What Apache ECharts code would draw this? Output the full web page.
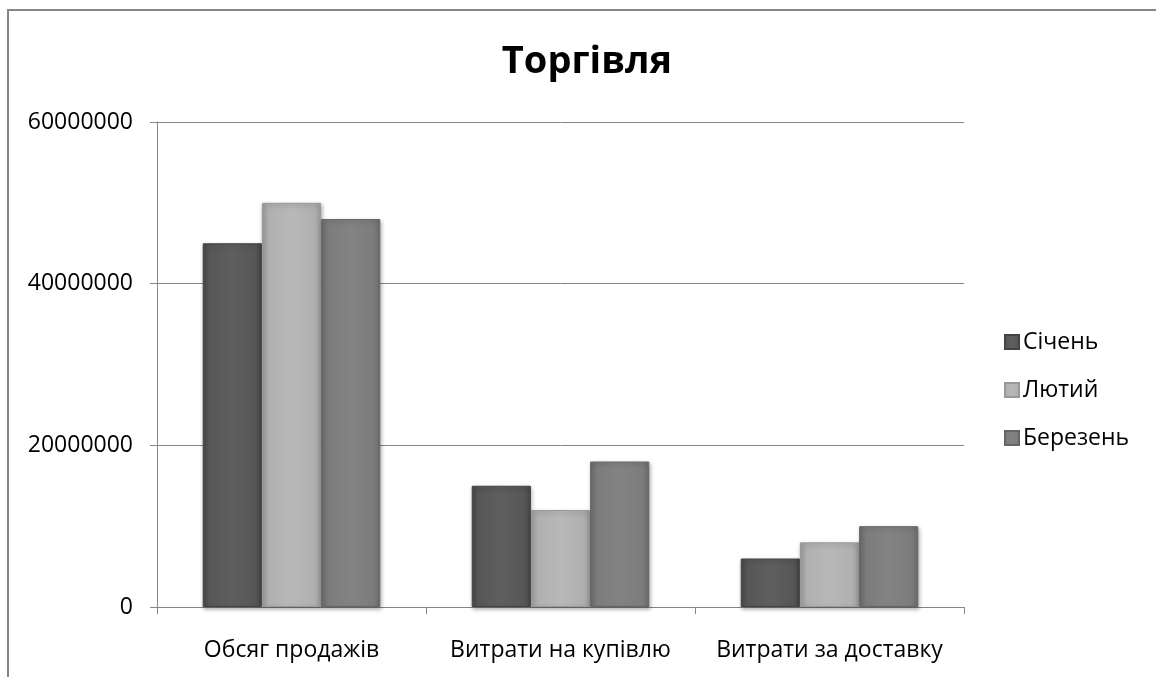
<!DOCTYPE html>
<html><head><meta charset="utf-8">
<script src="https://cdn.jsdelivr.net/npm/echarts@6/dist/echarts.min.js"></script>
<style>html,body{margin:0;padding:0;background:#fff}#c{width:1156px;height:677px}</style>
</head><body><div id="c"></div>
<script>
const title = 'Торгівля';
const categories = ['Обсяг продажів', 'Витрати на купівлю', 'Витрати за доставку'];
const seriesNames = ['Січень', 'Лютий', 'Березень'];
const sichen = [45000000, 15000000, 6000000];
const lyutyi = [50000000, 12000000, 8000000];
const berezen = [48000000, 18000000, 10000000];
const yTicks = [0, 20000000, 40000000, 60000000];

const FONT = '"Open Sans", "DejaVu Sans", sans-serif';
function grad(edge, mid, hi) {
  return {
    type: 'linear', x: 0, y: 0, x2: 1, y2: 0,
    colorStops: [
      {offset: 0, color: edge},
      {offset: 0.12, color: mid},
      {offset: 0.5, color: hi},
      {offset: 0.88, color: mid},
      {offset: 1, color: edge}
    ]
  };
}
const styles = [
  {color: grad('#474747', '#575757', '#5e5e5e'), borderColor: '#444'},
  {color: grad('#9c9c9c', '#b0b0b0', '#b8b8b8'), borderColor: '#999'},
  {color: grad('#6c6c6c', '#7c7c7c', '#838383'), borderColor: '#666'}
];
const data = [sichen, lyutyi, berezen];

const chart = echarts.init(document.getElementById('c'));
chart.setOption({
  backgroundColor: '#fff',
  animation: false,
  title: {
    text: title, left: 582, textAlign: 'center', top: 38,
    textStyle: {fontFamily: FONT, fontSize: 38, fontWeight: 'bold', color: '#000'}
  },
  graphic: [{
    type: 'rect', shape: {x: 8, y: 10, width: 1300, height: 800},
    style: {fill: 'none', stroke: '#868686', lineWidth: 2}, silent: true, z: -1
  }],
  legend: {
    orient: 'vertical', left: 999, top: 324,
    itemWidth: 14, itemHeight: 14, itemGap: 22,
    icon: 'rect',
    data: seriesNames,
    textStyle: {fontFamily: FONT, fontSize: 23, color: '#000', lineHeight: 26, padding: [0, 0, 0, -1]}
  },
  grid: {left: 157, right: 192, top: 122, bottom: 70, containLabel: false},
  xAxis: {
    type: 'category', data: categories,
    axisLine: {lineStyle: {color: '#868686', width: 1}},
    axisTick: {show: true, length: 7, lineStyle: {color: '#868686'}, alignWithLabel: false},
    axisLabel: {fontFamily: FONT, fontSize: 23, color: '#000', margin: 32, interval: 0}
  },
  yAxis: {
    type: 'value', min: yTicks[0], max: yTicks[yTicks.length - 1], interval: yTicks[1] - yTicks[0],
    axisLine: {show: true, lineStyle: {color: '#868686', width: 1}},
    axisTick: {show: true, length: 7, lineStyle: {color: '#868686'}},
    splitLine: {lineStyle: {color: '#868686', width: 1}},
    axisLabel: {fontFamily: FONT, fontSize: 23, color: '#000', margin: 24, formatter: v => String(v)}
  },
  series: seriesNames.map((n, i) => ({
    name: n, type: 'bar', data: data[i],
    barWidth: '22%', barGap: '0%',
    itemStyle: {
      color: styles[i].color, borderColor: styles[i].borderColor, borderWidth: 1,
      shadowBlur: 4, shadowOffsetX: 1, shadowOffsetY: 2, shadowColor: 'rgba(0,0,0,0.3)'
    }
  }))
});
</script></body></html>
